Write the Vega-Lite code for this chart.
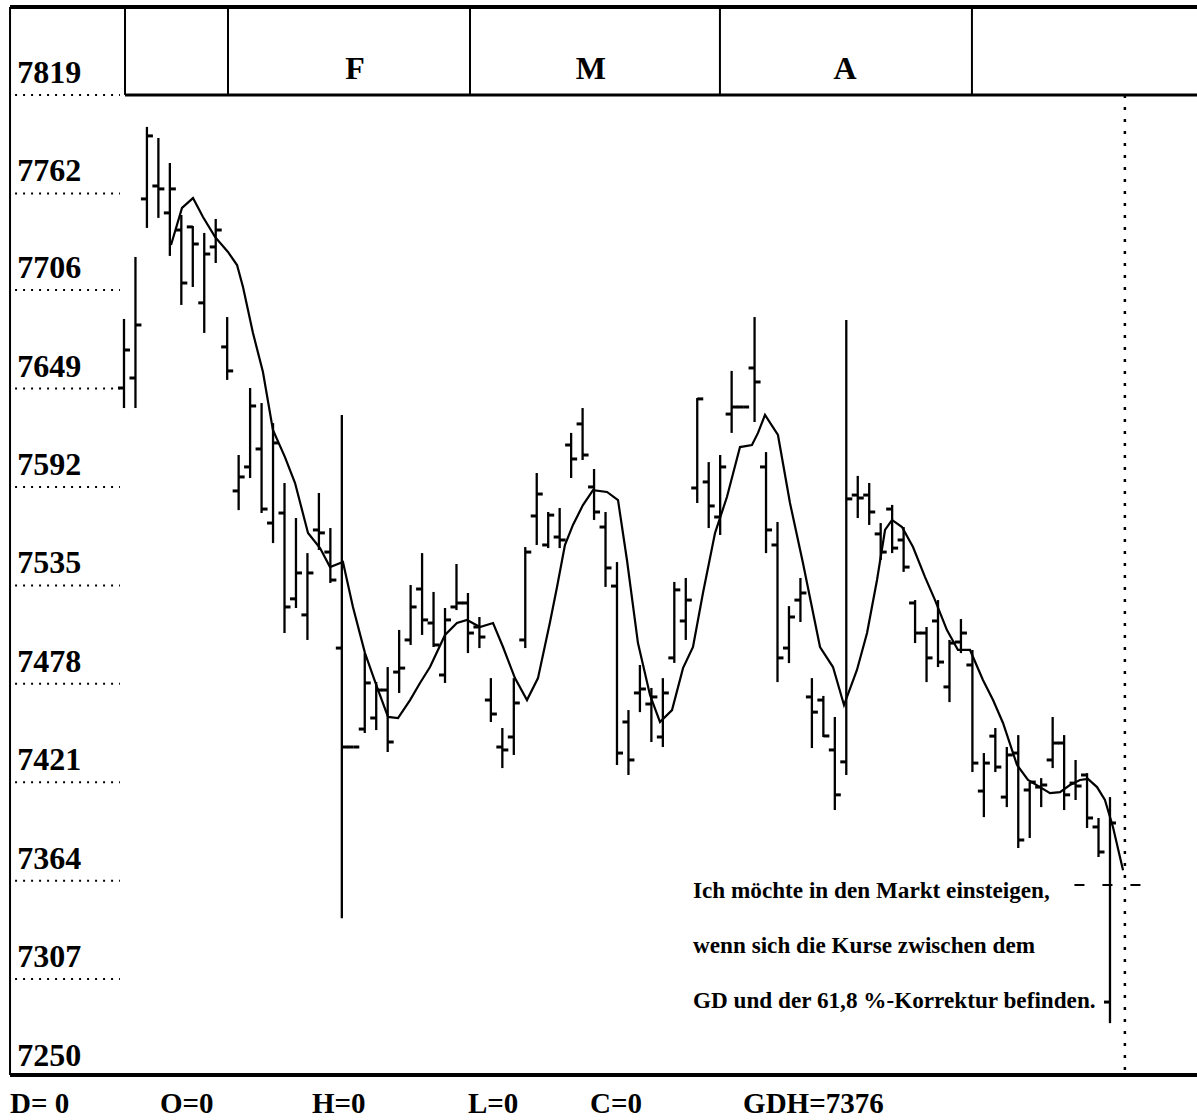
{
  "$schema": "https://vega.github.io/schema/vega-lite/v6.json",
  "width": 1197,
  "height": 1120,
  "padding": 0,
  "autosize": {"type": "none"},
  "background": "white",
  "config": {"view": {"stroke": null}, "axis": {"domain": false}},
  "data": {"values": [{}]},
  "datasets": {
    "bars": [
      {"i":0,"o":7649.3,"h":7689.3,"l":7637.7,"c":7671.3},
      {"i":1,"o":7655.1,"h":7725.2,"l":7637.7,"c":7685.8},
      {"i":2,"o":7758.8,"h":7800.5,"l":7742.0,"c":7795.3},
      {"i":3,"o":7766.3,"h":7794.1,"l":7747.8,"c":7764.6},
      {"i":4,"o":7750.7,"h":7779.6,"l":7725.8,"c":7764.6},
      {"i":5,"o":7740.8,"h":7749.5,"l":7697.4,"c":7710.1},
      {"i":6,"o":7742.6,"h":7743.1,"l":7707.8,"c":7732.7},
      {"i":7,"o":7698.6,"h":7739.1,"l":7681.2,"c":7726.9},
      {"i":8,"o":7731.0,"h":7747.2,"l":7721.7,"c":7740.8},
      {"i":9,"o":7673.1,"h":7690.4,"l":7654.0,"c":7659.2},
      {"i":10,"o":7589.7,"h":7610.5,"l":7578.6,"c":7597.8},
      {"i":11,"o":7603.6,"h":7649.3,"l":7597.2,"c":7638.9},
      {"i":12,"o":7614.0,"h":7640.6,"l":7576.9,"c":7579.2},
      {"i":13,"o":7571.1,"h":7629.0,"l":7559.5,"c":7617.5},
      {"i":14,"o":7576.9,"h":7594.3,"l":7507.4,"c":7522.5},
      {"i":15,"o":7527.2,"h":7574.0,"l":7521.9,"c":7542.2},
      {"i":16,"o":7517.9,"h":7553.7,"l":7503.4,"c":7542.2},
      {"i":17,"o":7567.1,"h":7588.5,"l":7555.5,"c":7565.4},
      {"i":18,"o":7554.3,"h":7568.2,"l":7536.4,"c":7538.1},
      {"i":19,"o":7498.7,"h":7633.7,"l":7342.3,"c":7441.4},
      {"i":20,"o":7441.4,"h":7441.4,"l":7441.4,"c":7441.4},
      {"i":21,"o":7451.8,"h":7495.8,"l":7449.5,"c":7478.5},
      {"i":22,"o":7458.2,"h":7479.0,"l":7451.2,"c":7474.4},
      {"i":23,"o":7474.4,"h":7487.7,"l":7438.5,"c":7444.3},
      {"i":24,"o":7484.8,"h":7509.2,"l":7472.7,"c":7487.1},
      {"i":25,"o":7503.4,"h":7535.2,"l":7500.5,"c":7522.5},
      {"i":26,"o":7532.9,"h":7553.7,"l":7506.3,"c":7515.0},
      {"i":27,"o":7513.2,"h":7531.2,"l":7499.3,"c":7500.5},
      {"i":28,"o":7483.1,"h":7521.9,"l":7478.5,"c":7515.0},
      {"i":29,"o":7522.5,"h":7547.4,"l":7520.7,"c":7524.8},
      {"i":30,"o":7524.8,"h":7530.6,"l":7495.8,"c":7507.4},
      {"i":31,"o":7510.9,"h":7516.7,"l":7498.7,"c":7505.1},
      {"i":32,"o":7468.6,"h":7481.3,"l":7455.9,"c":7460.5},
      {"i":33,"o":7441.4,"h":7452.4,"l":7429.2,"c":7439.7},
      {"i":34,"o":7447.2,"h":7481.3,"l":7436.8,"c":7466.9},
      {"i":35,"o":7503.4,"h":7557.2,"l":7498.7,"c":7554.3},
      {"i":36,"o":7575.2,"h":7600.1,"l":7558.4,"c":7587.9},
      {"i":37,"o":7558.4,"h":7577.5,"l":7556.6,"c":7575.7},
      {"i":38,"o":7563.0,"h":7579.8,"l":7556.6,"c":7561.3},
      {"i":39,"o":7616.3,"h":7623.3,"l":7597.2,"c":7608.2},
      {"i":40,"o":7628.5,"h":7637.7,"l":7607.6,"c":7610.5},
      {"i":41,"o":7592.0,"h":7602.4,"l":7572.9,"c":7577.5},
      {"i":42,"o":7568.8,"h":7577.5,"l":7534.1,"c":7545.1},
      {"i":43,"o":7534.6,"h":7548.5,"l":7431.0,"c":7437.9},
      {"i":44,"o":7455.9,"h":7462.8,"l":7425.2,"c":7433.9},
      {"i":45,"o":7472.7,"h":7488.9,"l":7461.6,"c":7475.0},
      {"i":46,"o":7466.3,"h":7475.6,"l":7444.3,"c":7470.4},
      {"i":47,"o":7447.2,"h":7481.3,"l":7441.4,"c":7472.7},
      {"i":48,"o":7493.0,"h":7537.0,"l":7490.1,"c":7532.4},
      {"i":49,"o":7514.4,"h":7539.3,"l":7503.4,"c":7526.5},
      {"i":50,"o":7591.4,"h":7643.5,"l":7582.7,"c":7643.0},
      {"i":51,"o":7594.9,"h":7606.4,"l":7568.2,"c":7581.0},
      {"i":52,"o":7574.6,"h":7610.5,"l":7564.2,"c":7603.6},
      {"i":53,"o":7634.2,"h":7659.2,"l":7623.3,"c":7638.3},
      {"i":54,"o":7638.3,"h":7638.3,"l":7638.3,"c":7638.3},
      {"i":55,"o":7660.9,"h":7690.4,"l":7629.6,"c":7652.8},
      {"i":56,"o":7603.6,"h":7612.2,"l":7553.7,"c":7567.1},
      {"i":57,"o":7558.4,"h":7571.7,"l":7479.0,"c":7493.0},
      {"i":58,"o":7498.7,"h":7523.0,"l":7490.0,"c":7516.7},
      {"i":59,"o":7526.5,"h":7539.3,"l":7513.8,"c":7530.6},
      {"i":60,"o":7470.4,"h":7481.3,"l":7440.8,"c":7461.6},
      {"i":61,"o":7468.6,"h":7471.0,"l":7447.2,"c":7447.8},
      {"i":62,"o":7439.7,"h":7458.8,"l":7404.9,"c":7413.7},
      {"i":63,"o":7432.8,"h":7688.7,"l":7425.2,"c":7585.1},
      {"i":64,"o":7587.3,"h":7598.4,"l":7574.0,"c":7585.6},
      {"i":65,"o":7587.3,"h":7594.3,"l":7570.0,"c":7577.5},
      {"i":66,"o":7564.8,"h":7571.1,"l":7549.7,"c":7554.3},
      {"i":67,"o":7579.2,"h":7581.6,"l":7553.7,"c":7556.6},
      {"i":68,"o":7561.3,"h":7568.8,"l":7542.8,"c":7545.6},
      {"i":69,"o":7524.8,"h":7526.5,"l":7501.6,"c":7507.4},
      {"i":70,"o":7507.4,"h":7510.9,"l":7479.0,"c":7493.0},
      {"i":71,"o":7514.4,"h":7526.5,"l":7487.7,"c":7490.6},
      {"i":72,"o":7476.2,"h":7503.4,"l":7467.4,"c":7501.6},
      {"i":73,"o":7502.2,"h":7515.5,"l":7495.8,"c":7507.4},
      {"i":74,"o":7488.9,"h":7497.6,"l":7426.9,"c":7432.1},
      {"i":75,"o":7415.9,"h":7437.9,"l":7400.8,"c":7432.1},
      {"i":76,"o":7447.7,"h":7452.4,"l":7426.9,"c":7429.8},
      {"i":77,"o":7412.4,"h":7441.4,"l":7406.6,"c":7436.8},
      {"i":78,"o":7437.9,"h":7448.3,"l":7382.9,"c":7387.5},
      {"i":79,"o":7416.5,"h":7421.1,"l":7388.7,"c":7421.1},
      {"i":80,"o":7418.2,"h":7423.4,"l":7406.6,"c":7419.4},
      {"i":81,"o":7433.9,"h":7458.8,"l":7429.2,"c":7443.7},
      {"i":82,"o":7443.7,"h":7448.3,"l":7404.9,"c":7413.7},
      {"i":83,"o":7420.5,"h":7433.9,"l":7410.7,"c":7418.8},
      {"i":84,"o":7425.2,"h":7426.3,"l":7394.5,"c":7400.3},
      {"i":85,"o":7395.1,"h":7400.3,"l":7377.7,"c":7380.6},
      {"i":86,"o":7293.7,"h":7412.4,"l":7281.5,"c":7397.4}
    ],
    "ma": [
      {"i":4.10,"v":7732.1},{"i":5.06,"v":7753.6},{"i":6.02,"v":7759.3},{"i":6.89,"v":7748.3},
      {"i":7.94,"v":7736.8},{"i":9.07,"v":7728.1},{"i":9.86,"v":7720.5},{"i":10.38,"v":7707.8},
      {"i":11.25,"v":7681.2},{"i":12.12,"v":7658.6},{"i":12.99,"v":7625.0},{"i":14.04,"v":7609.3},
      {"i":14.92,"v":7594.3},{"i":16.05,"v":7565.3},{"i":17.10,"v":7556.6},{"i":17.97,"v":7545.6},
      {"i":19.10,"v":7548.5},{"i":19.97,"v":7522.5},{"i":21.02,"v":7495.8},{"i":22.07,"v":7476.1},
      {"i":23.03,"v":7458.8},{"i":23.90,"v":7458.2},{"i":24.95,"v":7468.6},{"i":25.82,"v":7478.5},
      {"i":26.69,"v":7487.7},{"i":28.00,"v":7506.3},{"i":29.04,"v":7513.2},{"i":29.92,"v":7515.0},
      {"i":31.05,"v":7510.9},{"i":32.19,"v":7513.2},{"i":33.06,"v":7499.3},{"i":34.10,"v":7481.3},
      {"i":35.15,"v":7468.6},{"i":36.11,"v":7481.3},{"i":37.16,"v":7513.8},{"i":37.77,"v":7534.1},
      {"i":38.46,"v":7558.4},{"i":39.16,"v":7570.0},{"i":40.03,"v":7581.5},{"i":40.91,"v":7590.2},
      {"i":42.13,"v":7589.1},{"i":43.09,"v":7584.4},{"i":43.87,"v":7549.7},{"i":44.83,"v":7501.6},
      {"i":45.88,"v":7471.5},{"i":46.75,"v":7455.9},{"i":47.80,"v":7462.8},{"i":48.76,"v":7487.1},
      {"i":49.63,"v":7499.3},{"i":50.50,"v":7530.6},{"i":51.55,"v":7565.3},{"i":52.59,"v":7586.2},
      {"i":53.73,"v":7615.1},{"i":54.77,"v":7616.3},{"i":55.30,"v":7623.3},{"i":55.91,"v":7633.7},
      {"i":57.04,"v":7622.1},{"i":58.09,"v":7582.7},{"i":59.22,"v":7548.0},{"i":60.71,"v":7499.3},
      {"i":61.84,"v":7487.7},{"i":62.80,"v":7465.7},{"i":63.93,"v":7486.0},{"i":64.81,"v":7507.4},
      {"i":65.68,"v":7538.1},{"i":66.38,"v":7567.1},{"i":66.99,"v":7572.9},{"i":67.86,"v":7568.8},
      {"i":68.82,"v":7557.2},{"i":69.87,"v":7539.8},{"i":70.74,"v":7526.5},{"i":71.78,"v":7509.1},
      {"i":72.74,"v":7497.6},{"i":73.79,"v":7497.6},{"i":74.92,"v":7480.2},{"i":75.80,"v":7468.6},
      {"i":76.67,"v":7455.3},{"i":77.89,"v":7431.0},{"i":78.85,"v":7422.3},{"i":79.90,"v":7418.2},
      {"i":80.77,"v":7414.7},{"i":81.64,"v":7415.3},{"i":82.51,"v":7419.4},{"i":83.38,"v":7422.3},
      {"i":84.08,"v":7422.9},{"i":84.87,"v":7418.2},{"i":85.56,"v":7410.7},{"i":86.26,"v":7395.1},
      {"i":87.14,"v":7370.1}
    ],
    "levels": [
      {"value":7819},{"value":7762},{"value":7706},{"value":7649},{"value":7592},{"value":7535},
      {"value":7478},{"value":7421},{"value":7364},{"value":7307},{"value":7250}
    ],
    "months": [
      {"month":"","start":0.09,"mid":4.6},
      {"month":"F","start":9.07,"mid":20.15},
      {"month":"M","start":30.18,"mid":40.73},
      {"month":"A","start":51.98,"mid":62.9},
      {"month":"","start":73.96,"mid":83.8}
    ],
    "footer": [
      {"label":"D= 0","pos":-9.94},
      {"label":"O=0","pos":3.14},
      {"label":"H=0","pos":16.4},
      {"label":"L=0","pos":30.0},
      {"label":"C=0","pos":40.65},
      {"label":"GDH=7376","pos":54.0}
    ]
  },
  "layer": [
    {
      "mark": {"type": "rule", "color": "black", "strokeWidth": 4},
      "encoding": {
        "x": {"datum": -9.94, "type": "quantitative", "scale": {"domain": [-10.815, 93.59], "nice": false, "zero": false}, "axis": null},
        "x2": {"datum": 93.59},
        "y": {"datum": 7870, "type": "quantitative", "scale": {"domain": [7225.4, 7874.0], "nice": false, "zero": false}, "axis": null}
      }
    },
    {
      "mark": {"type": "rule", "color": "black", "strokeWidth": 3},
      "encoding": {
        "x": {"datum": 0.09, "type": "quantitative"},
        "x2": {"datum": 93.59},
        "y": {"datum": 7819, "type": "quantitative"}
      }
    },
    {
      "mark": {"type": "rule", "color": "black", "strokeWidth": 4},
      "encoding": {
        "x": {"datum": -9.94, "type": "quantitative"},
        "x2": {"datum": 93.59},
        "y": {"datum": 7251.5, "type": "quantitative"}
      }
    },
    {
      "mark": {"type": "rule", "color": "black", "strokeWidth": 2},
      "encoding": {
        "x": {"datum": -9.94, "type": "quantitative"},
        "y": {"datum": 7251.5, "type": "quantitative"},
        "y2": {"datum": 7870}
      }
    },
    {
      "data": {"name": "months"},
      "mark": {"type": "rule", "color": "black", "strokeWidth": 2},
      "encoding": {
        "x": {"field": "start", "type": "quantitative"},
        "y": {"datum": 7819, "type": "quantitative"},
        "y2": {"datum": 7870}
      }
    },
    {
      "data": {"name": "months"},
      "mark": {"type": "text", "font": "Liberation Serif", "fontWeight": "bold", "fontSize": 32, "align": "center", "baseline": "alphabetic", "color": "black"},
      "encoding": {
        "x": {"field": "mid", "type": "quantitative"},
        "y": {"datum": 7828, "type": "quantitative"},
        "text": {"field": "month"}
      }
    },
    {
      "data": {"name": "levels"},
      "transform": [{"filter": "datum.value > 7250"}],
      "mark": {"type": "rule", "color": "black", "strokeWidth": 2, "strokeDash": [2, 6]},
      "encoding": {
        "x": {"datum": -9.5, "type": "quantitative"},
        "x2": {"datum": -0.35},
        "y": {"field": "value", "type": "quantitative"}
      }
    },
    {
      "data": {"name": "levels"},
      "mark": {"type": "text", "font": "Liberation Serif", "fontWeight": "bold", "fontSize": 32, "align": "left", "baseline": "alphabetic", "dy": -12, "color": "black"},
      "encoding": {
        "x": {"datum": -9.3, "type": "quantitative"},
        "y": {"field": "value", "type": "quantitative"},
        "text": {"field": "value", "type": "quantitative", "format": "d"}
      }
    },
    {
      "data": {"name": "bars"},
      "mark": {"type": "rule", "color": "black", "strokeWidth": 2.3},
      "encoding": {
        "x": {"field": "i", "type": "quantitative"},
        "y": {"field": "l", "type": "quantitative"},
        "y2": {"field": "h"}
      }
    },
    {
      "data": {"name": "bars"},
      "mark": {"type": "tick", "color": "black", "orient": "horizontal", "size": 6, "thickness": 3, "xOffset": -3, "opacity": 1},
      "encoding": {
        "x": {"field": "i", "type": "quantitative"},
        "y": {"field": "o", "type": "quantitative"}
      }
    },
    {
      "data": {"name": "bars"},
      "mark": {"type": "tick", "color": "black", "orient": "horizontal", "size": 6, "thickness": 3, "xOffset": 3, "opacity": 1},
      "encoding": {
        "x": {"field": "i", "type": "quantitative"},
        "y": {"field": "c", "type": "quantitative"}
      }
    },
    {
      "data": {"name": "ma"},
      "mark": {"type": "line", "color": "black", "strokeWidth": 2.2},
      "encoding": {
        "x": {"field": "i", "type": "quantitative"},
        "y": {"field": "v", "type": "quantitative"}
      }
    },
    {
      "mark": {"type": "rule", "color": "black", "strokeWidth": 2.5, "strokeDash": [3, 9]},
      "encoding": {
        "x": {"datum": 87.3, "type": "quantitative"},
        "y": {"datum": 7819, "type": "quantitative"},
        "y2": {"datum": 7253}
      }
    },
    {
      "mark": {"type": "rule", "color": "black", "strokeWidth": 2, "strokeDash": [10, 18]},
      "encoding": {
        "x": {"datum": 82.9, "type": "quantitative"},
        "x2": {"datum": 89.05},
        "y": {"datum": 7361.5, "type": "quantitative"}
      }
    },
    {
      "mark": {"type": "text", "font": "Liberation Serif", "fontWeight": "bold", "fontSize": 23.2, "align": "left", "baseline": "alphabetic", "lineHeight": 55, "color": "black"},
      "encoding": {
        "x": {"datum": 49.63, "type": "quantitative"},
        "y": {"datum": 7353.9, "type": "quantitative"},
        "text": {"value": ["Ich möchte in den Markt einsteigen,", "wenn sich die Kurse zwischen dem", "GD und der 61,8 %-Korrektur befinden."]}
      }
    },
    {
      "data": {"name": "footer"},
      "mark": {"type": "text", "font": "Liberation Serif", "fontWeight": "bold", "fontSize": 29, "align": "left", "baseline": "alphabetic", "color": "black"},
      "encoding": {
        "x": {"field": "pos", "type": "quantitative"},
        "y": {"datum": 7229.5, "type": "quantitative"},
        "text": {"field": "label"}
      }
    }
  ]
}
